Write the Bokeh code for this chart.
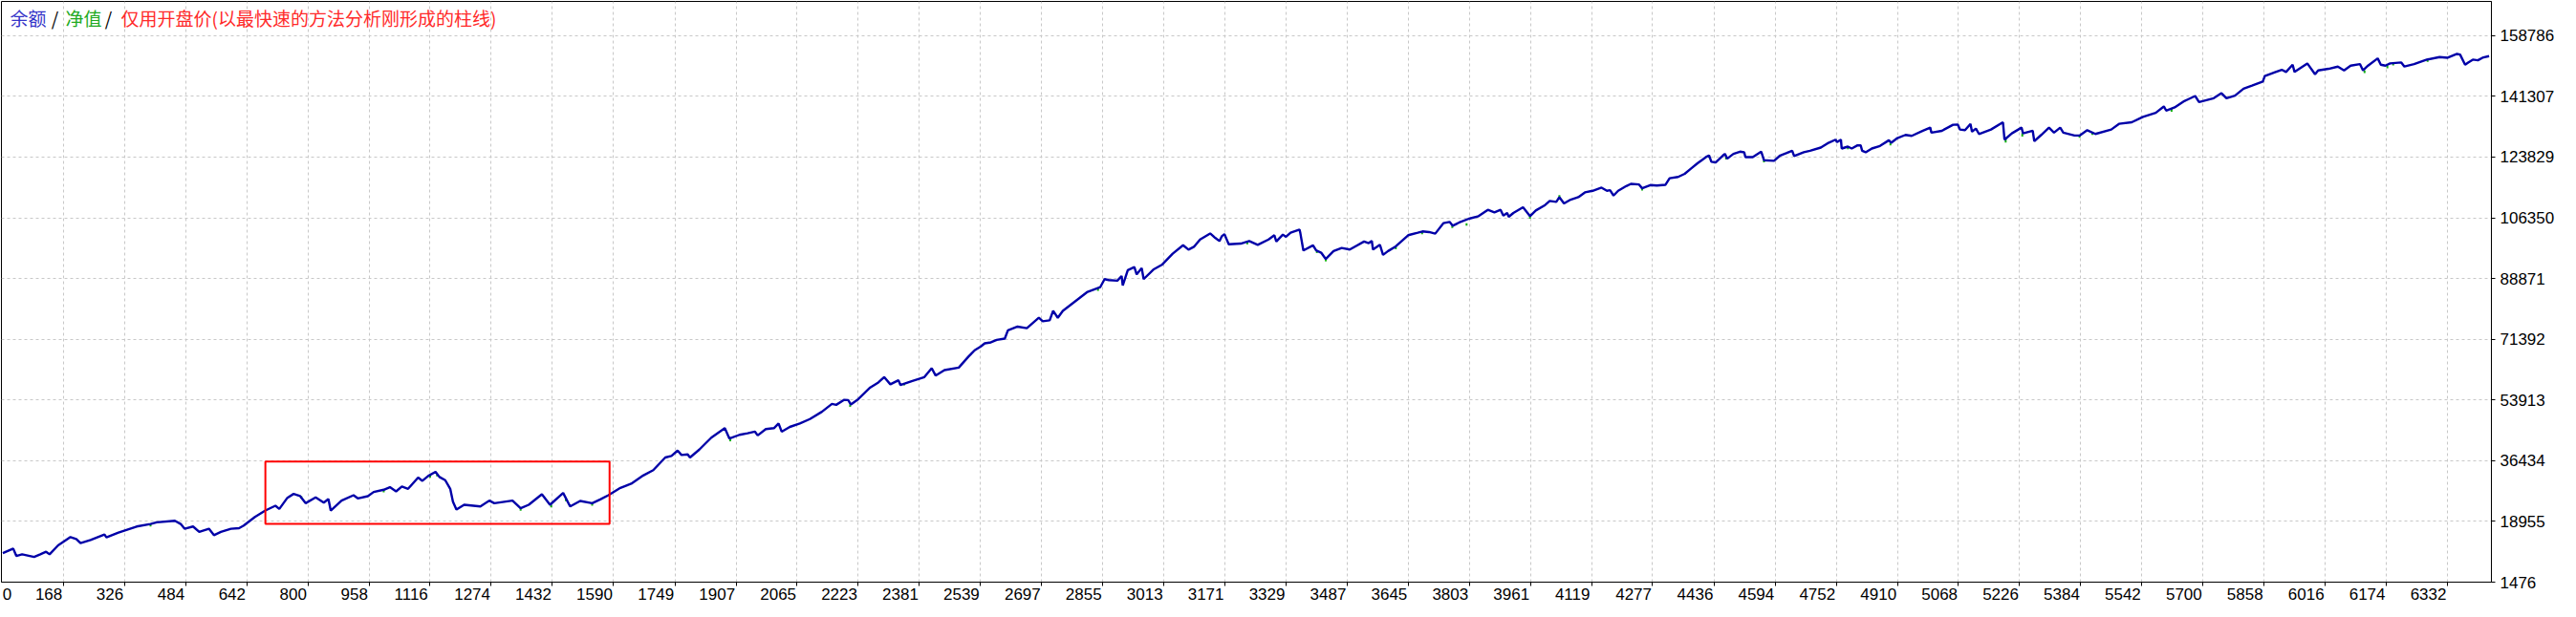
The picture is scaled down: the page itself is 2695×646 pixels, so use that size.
from bokeh.plotting import figure
from bokeh.models import FixedTicker, LinearAxis, Range1d, Label, BasicTickFormatter
from bokeh.embed import file_html
from bokeh.resources import INLINE

# ---------------- data ----------------
trade_x = [
    11, 38, 46, 61, 92, 108, 123, 132, 154, 186, 201, 212, 238, 274, 279, 310, 357, 393, 409, 456,
    471, 481, 503, 519, 544, 557, 575, 601, 622, 634, 663, 690, 716, 726, 747, 763, 780, 794, 820, 841,
    853, 859, 887, 918, 929, 955, 970, 996, 1012, 1028, 1043, 1059, 1085, 1096, 1111, 1130, 1140, 1155,
    1168, 1175, 1184, 1204, 1246, 1269, 1282, 1329, 1350, 1371, 1405, 1426, 1460, 1478, 1504, 1535,
    1556, 1577, 1608,
    1636, 1667, 1693, 1724, 1740, 1756, 1766, 1782, 1788, 1812, 1843, 1878, 1890, 1916, 1937, 1956,
    1963, 1984, 2005, 2017, 2025, 2046, 2072, 2098, 2129, 2155, 2166, 2187, 2197, 2204, 2223, 2254,
    2275, 2290, 2306, 2327, 2332, 2363, 2394, 2413, 2423, 2446, 2483, 2508, 2524, 2540, 2550, 2566,
    2581, 2602, 2610, 2635, 2659, 2690, 2700, 2718, 2727, 2739, 2752,
    2816, 2849, 2860, 2871, 2893, 2904, 2907, 2920, 2937, 2943, 2956, 2961, 2986, 3008, 3036, 3063,
    3077, 3091, 3107, 3133, 3146, 3157, 3163, 3170, 3181, 3212, 3234, 3256, 3284,
    3299, 3304, 3321, 3329, 3341, 3364, 3366, 3374, 3399, 3407, 3420, 3432, 3452, 3473, 3494, 3531,
    3543, 3551, 3554, 3572, 3580, 3593, 3613, 3645, 3670, 3682, 3699, 3715, 3736, 3752, 3760, 3777,
    3802, 3827, 3851, 3868, 3884, 3891, 3901, 3905, 3917, 3942, 3960, 3975, 3999, 4011, 4028, 4036,
    4048, 4065, 4085, 4102, 4122, 4145, 4159, 4167, 4176, 4188, 4209, 4221, 4242, 4250, 4271,
    4288, 4310, 4321, 4343, 4360, 4376, 4393, 4415, 4423, 4429, 4440, 4459, 4464, 4470, 4486, 4503,
    4514, 4517, 4536, 4558, 4565, 4591, 4607, 4624, 4638, 4643, 4668, 4684,
    4712, 4729, 4750, 4754, 4764, 4766, 4782, 4792, 4807, 4815, 4819, 4828, 4844, 4865, 4888, 4894,
    4910, 4931, 4947, 4976, 4995, 4998, 5025, 5054, 5066, 5072, 5085, 5099, 5103, 5113, 5121, 5152,
    5183, 5187, 5206, 5231, 5235, 5260, 5264, 5282, 5302, 5315, 5331, 5339, 5368, 5381, 5401, 5422,
    5463, 5483, 5516, 5545, 5578, 5599, 5605, 5627, 5652, 5680,
    5690, 5728, 5748, 5761, 5783, 5805, 5827, 5855, 5860, 5888, 5904, 5915, 5932, 5937, 5970, 5990,
    5998, 6025,
    6049, 6065, 6082, 6106, 6114, 6127, 6152, 6160, 6172, 6184, 6213, 6221, 6246, 6279, 6312, 6333,
    6357, 6365, 6378, 6386, 6398, 6411, 6423, 6440,
]
balance = [
    9847, 11135, 9019, 9479, 8743, 9479, 10215, 9479, 12055, 14447, 13895, 12699, 13619, 15183, 14355,
    15735, 17483, 18219, 18679, 19139, 18219, 16839, 17483, 15919, 16839, 14999, 15919, 16839, 17023,
    17759, 20243, 22083, 23463, 22543, 25763, 26867, 26223, 24199, 25855, 24383, 25395, 22083, 24935,
    26499, 25579, 26223, 27419, 28063, 28799, 27603, 28983, 28339, 31559, 30639, 32019, 33215, 31743,
    30823, 28339, 24659, 22359, 23739, 23279, 24935, 24199, 24935, 22727, 23739, 26775, 23739, 27143,
    23279, 24843, 24199, 25303, 26499, 28615,
    29806, 32166, 33710, 37342, 37796, 39340, 38068, 38250, 37342, 39612, 43062, 45786, 42790, 43880,
    44334, 44788, 43698, 45514, 45786, 47148, 44788, 46150, 47148, 48420, 50508, 52778, 52506, 53958,
    53868, 52596, 54140, 57500, 58952, 60496, 58408, 59588, 58226, 59406, 60496, 63038, 60950, 62494,
    63220, 66398, 68214, 69304, 70212, 70484, 71210, 71574, 73934, 75024, 74570, 77566, 76568, 76840,
    79564, 77566, 79564,
    85036, 86406, 88688, 88414, 88232, 89601, 86862, 91245, 92158, 90058, 91884, 88688, 91427, 92797,
    95992, 98458, 97179, 97993, 100101, 101836, 100557, 99644, 101014, 101654, 98731, 98914, 99644,
    98549, 100101,
    101329, 99503, 101511, 100872, 102059, 102972, 102059, 96946, 98407, 96946, 96307, 94481, 96763,
    97677, 97220, 99503, 99046, 99686, 97220, 98590, 95668, 96763, 98133, 101329, 102059, 102424,
    102242, 101785, 104798, 105163, 104068, 104980, 106076, 106806, 108633, 107902, 108633, 106989,
    107719, 106624, 107719, 109363, 106806, 108450, 110002, 111189, 110916, 112285, 110459, 111554,
    112285, 113654, 114111, 115024, 114111, 114293, 112741, 114111, 115480, 116119, 115937, 114841,
    115754,
    115639, 115821, 117732, 118096, 119006, 120462, 122009, 123829, 124284, 122464, 122282, 124284,
    124739, 123374, 124739, 125376, 125194, 123829, 123829, 125376, 122919, 122737, 124284, 125012,
    125649, 124102, 125194, 125649,
    126559, 127742, 128834, 128106, 128834, 126286, 126832, 126286, 127196, 127196, 125649, 125194,
    126286, 127014, 128652, 127924, 129289, 130199, 129926, 131382, 132292, 130836, 131382, 133111,
    133202, 131746, 131564, 133384, 131109, 132019, 130472, 131746, 133839, 128834, 130654, 132292,
    130654, 131382, 128379, 130199, 132292, 130836, 132292, 130836, 130017, 130017, 131564, 130472,
    131746, 133384, 133839, 135386, 136569, 138389, 137206, 138116, 139936, 141398,
    139669, 140761, 142217, 140761, 141489, 143491, 144401, 145584, 147131, 148314, 148951, 148314,
    150407, 148314, 150771, 147677, 148769, 149224,
    149866, 148773, 150139, 150594, 148773, 150139, 152233, 150412, 150139, 150776, 151049, 149866,
    150594, 151869, 152596, 152415, 153508, 153325, 150412, 151049, 151869, 151686, 152415, 152870,
]

# equity (green) spikes that show just under the balance line
dip_x = [393, 783, 996, 1116, 1134, 1350, 1429, 1467, 1535, 1892, 2202, 2342, 2843, 3229, 3409,
         3432, 3613, 3681, 3759, 3796, 3960, 4036, 4250, 4423, 4467, 4565, 4782, 4892, 5190, 5233,
         5381, 5414, 5619, 6118, 6177, 6192, 6281]
dip_top = [18219, 26223, 28063, 32300, 32600, 22727, 23739, 25600, 24199, 42790, 52596, 58800,
           86150, 99500, 96946, 94481, 98133, 102424, 104068, 104800, 106806, 112285, 114841,
           124284, 123800, 122919, 126832, 127924, 129100, 130654, 130017, 130800, 137700,
           148773, 150139, 150800, 151869]
dip_bottom = [17500, 25500, 27300, 31500, 31900, 22000, 23000, 24800, 23500, 42000, 51900, 58100,
              85300, 98700, 96200, 93800, 97300, 101600, 103400, 104100, 106100, 112900, 114200,
              123600, 123100, 122300, 126100, 127200, 128000, 129700, 129400, 130200, 136900,
              148000, 149400, 150200, 151200]

x_tick_values = [0, 168, 326, 484, 642, 800, 958, 1116, 1274, 1432, 1590, 1749, 1907, 2065, 2223,
                 2381, 2539, 2697, 2855, 3013, 3171, 3329, 3487, 3645, 3803, 3961, 4119, 4277,
                 4436, 4594, 4752, 4910, 5068, 5226, 5384, 5542, 5700, 5858, 6016, 6174, 6332]
x_tick_labels = [str(v) for v in x_tick_values]
y_tick_values = [1476, 18955, 36434, 53913, 71392, 88871, 106350, 123829, 141307, 158786]

title_parts = ["余额", "/", "净值", "/", "仅用开盘价(以最快速的方法分析刚形成的柱线)"]

box_left = [690]
box_right = [1580]
box_bottom = [18219]
box_top = [36159]

# ---------------- layout / styles ----------------
X_START, X_END = 7.5, 6446
Y_START, Y_END = 1476, 168618
W, H = 2676, 630
RIGHT = 70
FRAME_W = W - 1 - RIGHT
UPP = (X_END - X_START) / FRAME_W
AX_FONT = "Liberation Sans"
AX_SIZE = "17px"
DIGIT_W = 9.45

p = figure(width=W, height=H, output_backend="svg", toolbar_location=None,
           x_range=Range1d(X_START, X_END), y_range=Range1d(Y_START, Y_END),
           y_axis_location="right", min_border_left=1, min_border_top=1,
           min_border_right=RIGHT, min_border_bottom=0)
p.background_fill_color = "white"
p.border_fill_color = "white"
p.outline_line_color = "black"
p.outline_line_width = 1

grid_x = x_tick_values[1:]

# x axis: tick marks only
xa = p.xaxis[0]
xa.ticker = FixedTicker(ticks=grid_x)
xa.major_label_overrides = {v: "" for v in grid_x}
xa.major_label_text_font_size = "0px"
xa.major_label_standoff = 0
xa.major_tick_out = 4
xa.major_tick_in = 0
xa.minor_tick_out = 0
xa.minor_tick_in = 0
xa.axis_line_color = "black"
xa.major_tick_line_color = "black"

# x labels drawn right-aligned to their grid line (as in the reference)
lab_pos = []
for v, t in zip(x_tick_values, x_tick_labels):
    w = len(t) * DIGIT_W
    pos = v - (1 + w / 2) * UPP
    if pos - (w / 2) * UPP < X_START:
        pos = X_START + (1 + w / 2) * UPP
    lab_pos.append(int(round(pos)))
lab_axis = LinearAxis(ticker=FixedTicker(ticks=lab_pos),
                      major_label_overrides=dict(zip(lab_pos, x_tick_labels)),
                      axis_line_color=None, major_tick_line_color=None,
                      minor_tick_line_color=None, major_tick_in=0, major_tick_out=0,
                      minor_tick_in=0, minor_tick_out=0, major_label_standoff=2,
                      major_label_text_font=AX_FONT, major_label_text_font_size=AX_SIZE,
                      major_label_text_color="black")
p.add_layout(lab_axis, "below")

ya = p.yaxis[0]
ya.ticker = FixedTicker(ticks=y_tick_values)
ya.formatter = BasicTickFormatter(use_scientific=False)
ya.major_label_text_font = AX_FONT
ya.major_label_text_font_size = AX_SIZE
ya.major_label_text_color = "black"
ya.major_tick_out = 4
ya.major_tick_in = 0
ya.minor_tick_out = 0
ya.minor_tick_in = 0
ya.major_label_standoff = 5
ya.axis_line_color = "black"
ya.major_tick_line_color = "black"

p.xgrid.ticker = FixedTicker(ticks=grid_x)
p.ygrid.ticker = FixedTicker(ticks=y_tick_values)
for g in (p.xgrid, p.ygrid):
    g.grid_line_color = "#C8C8C8"
    g.grid_line_dash = "3 3"
    g.grid_line_width = 1

# marks
p.segment(x0=dip_x, y0=dip_top, x1=dip_x, y1=dip_bottom, line_color="#14B014", line_width=2)
p.line(trade_x, balance, line_color="#0000A8", line_width=2.4)
p.quad(left=box_left, right=box_right, bottom=box_bottom, top=box_top,
       fill_alpha=0, line_color="#FF0000", line_width=2)

# title inside the frame, multi-coloured
title_colors = ["#3434C8", "black", "#22AA22", "black", "#FF2A2A"]
title_offsets = [9, 56, 67, 112, 125]
title_align = ["left", "center", "left", "center", "left"]
for t, c, o, a in zip(title_parts, title_colors, title_offsets, title_align):
    p.add_layout(Label(x=X_START, y=Y_END, x_units="data", y_units="data",
                       x_offset=o, y_offset=-17, text=t, text_color=c,
                       text_font="Noto Sans CJK SC", text_font_size="19px",
                       text_align=a, text_baseline="middle"))

open("out.html", "w").write(file_html(p, INLINE))
